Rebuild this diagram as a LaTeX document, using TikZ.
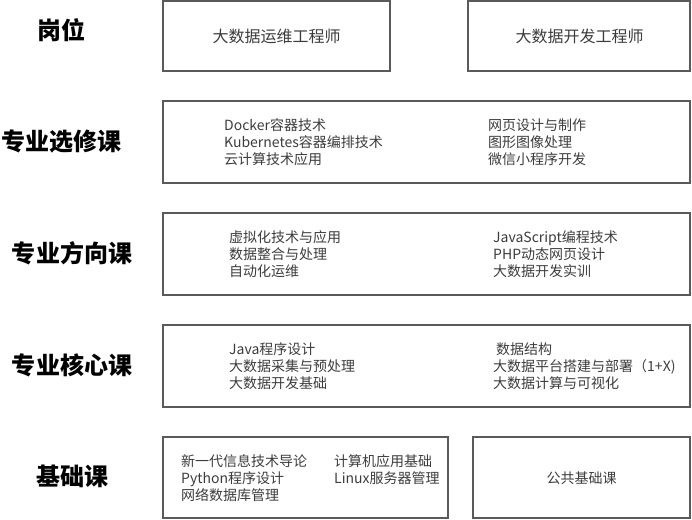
\documentclass[tikz,border=0pt]{standalone}
\usepackage{fontspec}
\setmainfont{Noto Sans CJK SC}
\usetikzlibrary{positioning}

\definecolor{linegray}{HTML}{5A5A5A}
\definecolor{txtgray}{HTML}{3C3C3C}

\tikzset{
  rowlabel/.style={font=\fontsize{24}{28}\selectfont\bfseries, inner sep=0pt},
  coursebox/.style={draw=linegray, line width=1.3pt, inner sep=0pt},
  courselist/.style={anchor=west, align=left, inner sep=0pt, text=txtgray,
    font=\fontsize{14}{17}\selectfont},
  posttext/.style={inner sep=0pt, text=txtgray, font=\fontsize{16}{19}\selectfont}
}

\begin{document}
\begin{tikzpicture}[x=1pt,y=-1pt]

  \useasboundingbox (0,0) rectangle (692,519);

%%%%%%%%%%%%%%%%%%%%%%%%%%%%%%%%%%%%%%%%%%
  % Row labels
  \node[rowlabel] (lblPost)      at (61.5,30.5)  {岗位};
  \node[rowlabel] (lblElective)  at (61.5,141.5) {专业选修课};
  \node[rowlabel] (lblDirection) at (72,253)     {专业方向课};
  \node[rowlabel] (lblCore)      at (72,365.5)   {专业核心课};
  \node[rowlabel] (lblBase)      at (72,476.5)   {基础课};

%%%%%%%%%%%%%%%%%%%%%%%%%%%%%%%%%%%%%%%%%%
  % Posts
  \draw[coursebox] (163,1) rectangle (390,71) coordinate (postA);
  \draw[coursebox] (468,1) rectangle (690,71) coordinate (postB);
  \node[posttext] (txtPostA) at (276.5,36) {大数据运维工程师};
  \node[posttext] (txtPostB) at (579.5,36) {大数据开发工程师};

%%%%%%%%%%%%%%%%%%%%%%%%%%%%%%%%%%%%%%%%%%
  % Elective courses
  \draw[coursebox] (163,101) rectangle (690,183);
  \node[courselist] (electiveL) at (224,142.5)
    {Docker容器技术\\Kubernetes容器编排技术\\云计算技术应用};
  \node[courselist] (electiveR) at (488,142.5)
    {网页设计与制作\\图形图像处理\\微信小程序开发};

%%%%%%%%%%%%%%%%%%%%%%%%%%%%%%%%%%%%%%%%%%
  % Direction courses
  \draw[coursebox] (163,213) rectangle (690,295);
  \node[courselist] (directionL) at (229,254.5)
    {虚拟化技术与应用\\数据整合与处理\\自动化运维};
  \node[courselist] (directionR) at (493,254.5)
    {JavaScript编程技术\\PHP动态网页设计\\大数据开发实训};

%%%%%%%%%%%%%%%%%%%%%%%%%%%%%%%%%%%%%%%%%%
  % Core courses
  \draw[coursebox] (163,325) rectangle (690,407);
  \node[courselist] (coreL) at (229,366.5)
    {Java程序设计\\大数据采集与预处理\\大数据开发基础};
  \node[courselist] (coreR) at (493,366.5)
    {\hspace{3pt}数据结构\\大数据平台搭建与部署（1+X)\\大数据计算与可视化};

%%%%%%%%%%%%%%%%%%%%%%%%%%%%%%%%%%%%%%%%%%
  % Basic courses
  \draw[coursebox] (163,437) rectangle (448,518);
  \draw[coursebox] (473,437) rectangle (690,518);
  \node[courselist] (baseL) at (181,478.5)
    {新一代信息技术导论\\Python程序设计\\网络数据库管理};
  \node[courselist, anchor=north west] (baseM) at (baseL.north west -| 334,0)
    {计算机应用基础\\Linux服务器管理};
  \node[posttext, font=\fontsize{14}{17}\selectfont] (basePublic) at (581.5,478)
    {公共基础课};

\end{tikzpicture}
\end{document}
